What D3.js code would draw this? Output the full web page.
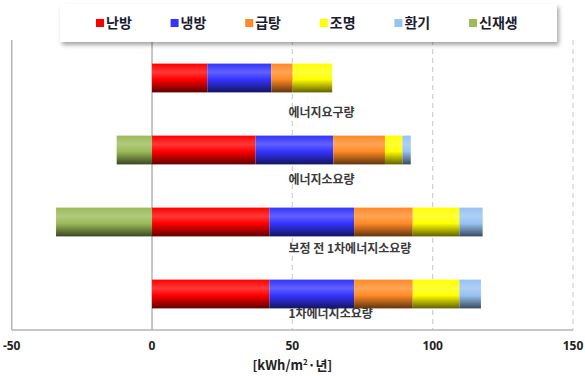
<!DOCTYPE html>
<html>
<head>
<meta charset="utf-8">
<script src="https://cdn.jsdelivr.net/npm/d3@7"></script>
<style>
  body { margin: 0; background: #fff; }
  svg { display: block; }
</style>
</head>
<body>
<svg id="chart" width="585" height="376"></svg>
<script>
// data
const categories = ["에너지요구량", "에너지소요량", "보정 전 1차에너지소요량", "1차에너지소요량"];
const seriesNames = ["난방", "냉방", "급탕", "조명", "환기", "신재생"];
const heating = [19.7, 36.9, 41.8, 41.8];
const cooling = [22.8, 27.7, 30.2, 30.2];
const hotWater = [7.6, 18.4, 20.9, 20.9];
const lighting = [14.1, 6.2, 16.6, 16.6];
const ventilation = [0, 3.0, 8.3, 7.7];
const renewable = [0, -12.6, -34.2, 0];
const xTicks = [-50, 0, 50, 100, 150];

const colors = ["#ff0000", "#3434ff", "#ff8a26", "#ffff00", "#97c2f2", "#9bbb59"];
const labelDy = [20, 15, 12, 5];

const svg = d3.select("#chart");
const plotLeft = 11.7, plotRight = 573, plotTop = 40, plotBottom = 330;

const x = d3.scaleLinear().domain([-50, 150]).range([plotLeft, plotRight]);
const y = d3.scaleBand().domain(categories).range([42, plotBottom])
  .paddingInner(0.6).paddingOuter(0.3);

const table = categories.map((c, i) => ({
  cat: c,
  "난방": heating[i], "냉방": cooling[i], "급탕": hotWater[i],
  "조명": lighting[i], "환기": ventilation[i], "신재생": renewable[i]
}));
const stacked = d3.stack().keys(seriesNames).offset(d3.stackOffsetDiverging)(table);

// gradients
const defs = svg.append("defs");
colors.forEach((c, i) => {
  const g = defs.append("linearGradient").attr("id", "grad" + i)
    .attr("x1", 0).attr("y1", 0).attr("x2", 0).attr("y2", 1);
  const light = d3.interpolateRgb(c, "#fff")(0.22);
  const dark = d3.interpolateRgb(c, "#000")(0.62);
  g.append("stop").attr("offset", "0%").attr("stop-color", c);
  g.append("stop").attr("offset", "30%").attr("stop-color", light);
  g.append("stop").attr("offset", "55%").attr("stop-color", c);
  g.append("stop").attr("offset", "100%").attr("stop-color", dark);
});
const shadow = defs.append("filter").attr("id", "shadow")
  .attr("x", "-5%").attr("y", "-30%").attr("width", "115%").attr("height", "180%");
shadow.append("feDropShadow").attr("dx", 2).attr("dy", 3)
  .attr("stdDeviation", 2).attr("flood-color", "#000").attr("flood-opacity", 0.35);

// grid
svg.append("g").selectAll("line")
  .data(xTicks.filter(d => d > 0))
  .join("line")
  .attr("x1", d => x(d)).attr("x2", d => x(d))
  .attr("y1", plotTop).attr("y2", plotBottom)
  .attr("stroke", "#d0d0d0").attr("stroke-width", 1.2)
  .attr("stroke-dasharray", "5,4");

svg.append("line")
  .attr("x1", x(-50)).attr("x2", x(-50)).attr("y1", plotTop).attr("y2", plotBottom)
  .attr("stroke", "#b4b4b4").attr("stroke-width", 1.5);
svg.append("line")
  .attr("x1", x(0)).attr("x2", x(0)).attr("y1", plotTop).attr("y2", plotBottom)
  .attr("stroke", "#b4b4b4").attr("stroke-width", 1.5);
svg.append("line")
  .attr("x1", x(-50)).attr("x2", x(150)).attr("y1", plotBottom).attr("y2", plotBottom)
  .attr("stroke", "#b4b4b4").attr("stroke-width", 1.5);

// category labels (under the bars)
svg.append("g").selectAll("text")
  .data(categories)
  .join("text")
  .attr("x", x(48.6))
  .attr("y", (d, i) => y(d) + y.bandwidth() + labelDy[i])
  .attr("dy", "0.35em")
  .attr("font-family", "'Noto Sans CJK KR', sans-serif")
  .attr("font-weight", "bold")
  .attr("font-size", 12)
  .attr("fill", "#3a3a3a")
  .text(d => d);

// bars
svg.append("g").selectAll("g")
  .data(stacked)
  .join("g")
  .attr("fill", (d, i) => `url(#grad${i})`)
  .selectAll("rect")
  .data(d => d.filter(p => p[1] !== p[0]).map(p => ({ p, cat: p.data.cat })))
  .join("rect")
  .attr("x", d => x(Math.min(d.p[0], d.p[1])))
  .attr("width", d => Math.abs(x(d.p[1]) - x(d.p[0])))
  .attr("y", d => y(d.cat))
  .attr("height", y.bandwidth());

// x axis labels
svg.append("g").selectAll("text")
  .data(xTicks)
  .join("text")
  .attr("x", d => x(d))
  .attr("y", 346)
  .attr("dy", "0.35em")
  .attr("text-anchor", "middle")
  .attr("font-family", "'Noto Sans', sans-serif")
  .attr("font-weight", "bold")
  .attr("font-size", 12)
  .attr("fill", "#222")
  .text(d => d);

const title = svg.append("text")
  .attr("x", x(50))
  .attr("y", 370)
  .attr("text-anchor", "middle")
  .attr("font-family", "'Noto Sans CJK KR', sans-serif")
  .attr("font-weight", "bold")
  .attr("font-size", 13)
  .attr("fill", "#222");
title.append("tspan").text("[kWh/m");
title.append("tspan").attr("font-size", 8).attr("dy", -5).text("2");
title.append("tspan").attr("dy", 5).text("·년]");

// legend
svg.append("rect")
  .attr("x", 60).attr("y", 4).attr("width", 497).attr("height", 38)
  .attr("fill", "#fff").attr("filter", "url(#shadow)");

const legend = svg.append("g").selectAll("g")
  .data(seriesNames)
  .join("g")
  .attr("transform", (d, i) => `translate(${96 + i * 74.6},23)`);
legend.append("rect")
  .attr("x", 0).attr("y", -4).attr("width", 8).attr("height", 8)
  .attr("fill", (d, i) => colors[i]);
legend.append("text")
  .attr("x", 10)
  .attr("dy", "0.35em")
  .attr("font-family", "'Noto Sans CJK KR', sans-serif")
  .attr("font-weight", "bold")
  .attr("font-size", 14)
  .attr("fill", "#1c1c30")
  .text(d => d);
</script>
</body>
</html>
